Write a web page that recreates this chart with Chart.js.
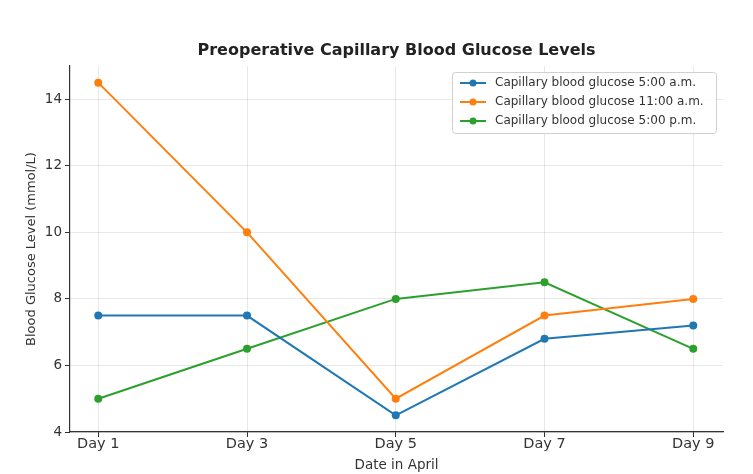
<!DOCTYPE html>
<html>
<head>
<meta charset="utf-8">
<script src="https://cdn.jsdelivr.net/npm/chart.js@4/dist/chart.umd.min.js"></script>
<style>
  html, body { margin: 0; padding: 0; background: #fff; }
  #wrap { width: 753px; height: 474px; }
</style>
</head>
<body>
<div id="wrap"><canvas id="myChart" width="753" height="474"></canvas></div>
<script>
// data
var day_labels = ["Day 1", "Day 3", "Day 5", "Day 7", "Day 9"];
var glucose_5am = [7.5, 7.5, 4.5, 6.8, 7.2];
var glucose_11am = [14.5, 10, 5, 7.5, 8];
var glucose_5pm = [5, 6.5, 8, 8.5, 6.5];
var series_names = [
  "Capillary blood glucose 5:00 a.m.",
  "Capillary blood glucose 11:00 a.m.",
  "Capillary blood glucose 5:00 p.m."
];
var series_colors = ["#1f77b4", "#ff7f0e", "#2ca02c"];
var chart_title = "Preoperative Capillary Blood Glucose Levels";

var FONT = "'DejaVu Sans', sans-serif";

function toPoints(values) {
  var pts = [];
  for (var i = 0; i < values.length; i++) {
    pts.push({ x: i, y: values[i] });
  }
  return pts;
}

function makeSet(name, values, color) {
  return {
    label: name,
    data: toPoints(values),
    borderColor: color,
    backgroundColor: color,
    borderWidth: 2,
    pointRadius: 4,
    pointHoverRadius: 4,
    pointBorderWidth: 0,
    tension: 0
  };
}

// title centred over the plot area (matplotlib style), legend box inside top right
var titleAndLegend = {
  id: "titleAndLegend",
  afterDraw: function (chart) {
    var c = chart.ctx;
    var area = chart.chartArea;
    c.save();
    c.font = "bold 16px " + FONT;
    c.fillStyle = "#222";
    c.textAlign = "center";
    c.textBaseline = "middle";
    c.fillText(chart_title, (area.left + area.right) / 2, 51);

    var x0 = 452, y0 = 72, w = 264, h = 61;
    c.textAlign = "left";
    c.fillStyle = "rgba(255,255,255,0.85)";
    c.strokeStyle = "#d0d0d0";
    c.lineWidth = 1;
    c.beginPath();
    c.roundRect(x0 + 0.5, y0 + 0.5, w, h, 3);
    c.fill();
    c.stroke();
    c.font = "12px " + FONT;
    for (var i = 0; i < chart.data.datasets.length; i++) {
      var ds = chart.data.datasets[i];
      var y = y0 + 11 + i * 19;
      c.strokeStyle = ds.borderColor;
      c.lineWidth = 2;
      c.beginPath();
      c.moveTo(x0 + 8, y);
      c.lineTo(x0 + 34, y);
      c.stroke();
      c.fillStyle = ds.borderColor;
      c.beginPath();
      c.arc(x0 + 21, y, 3.5, 0, Math.PI * 2);
      c.fill();
      c.fillStyle = "#333";
      c.fillText(ds.label, x0 + 43, y);
    }
    c.restore();
  }
};

var ctx = document.getElementById("myChart").getContext("2d");
var myChart = new Chart(ctx, {
  type: "line",
  data: {
    datasets: [
      makeSet(series_names[0], glucose_5am, series_colors[0]),
      makeSet(series_names[1], glucose_11am, series_colors[1]),
      makeSet(series_names[2], glucose_5pm, series_colors[2])
    ]
  },
  options: {
    responsive: false,
    animation: false,
    devicePixelRatio: 1,
    layout: { padding: { left: 24, right: 30, top: 66, bottom: 0 } },
    plugins: {
      legend: { display: false },
      tooltip: { enabled: false },
      title: { display: false }
    },
    scales: {
      x: {
        type: "linear",
        min: -0.19,
        max: 4.2,
        afterBuildTicks: function (scale) {
          scale.ticks = day_labels.map(function (l, i) { return { value: i }; });
        },
        afterFit: function (scale) { scale.height = 42; },
        ticks: {
          autoSkip: false,
          maxRotation: 0,
          padding: -1,
          color: "#333",
          font: { family: FONT, size: 14.5 },
          callback: function (v) { return day_labels[v]; }
        },
        grid: {
          color: "rgba(0,0,0,0.09)",
          tickColor: "#333",
          tickLength: 5,
          lineWidth: 1
        },
        border: { display: true, color: "#333", width: 1.2, dash: [] },
        title: {
          display: true,
          text: "Date in April",
          color: "#333",
          font: { family: FONT, size: 13.5 },
          padding: { top: 0.5, bottom: 0 }
        }
      },
      y: {
        min: 4,
        max: 15,
        afterBuildTicks: function (scale) {
          scale.ticks = scale.ticks.filter(function (t) { return t.value % 2 === 0; });
        },
        afterFit: function (scale) { scale.width = 46; },
        ticks: {
          stepSize: 2,
          padding: 3,
          color: "#333",
          font: { family: FONT, size: 13.5 }
        },
        grid: {
          color: "rgba(0,0,0,0.09)",
          tickColor: "#333",
          tickLength: 5,
          lineWidth: 1
        },
        border: { display: true, color: "#333", width: 1.2 },
        title: {
          display: true,
          text: "Blood Glucose Level (mmol/L)",
          color: "#333",
          font: { family: FONT, size: 13 },
          padding: { top: 0, bottom: 0 }
        }
      }
    }
  },
  plugins: [titleAndLegend]
});
</script>
</body>
</html>
